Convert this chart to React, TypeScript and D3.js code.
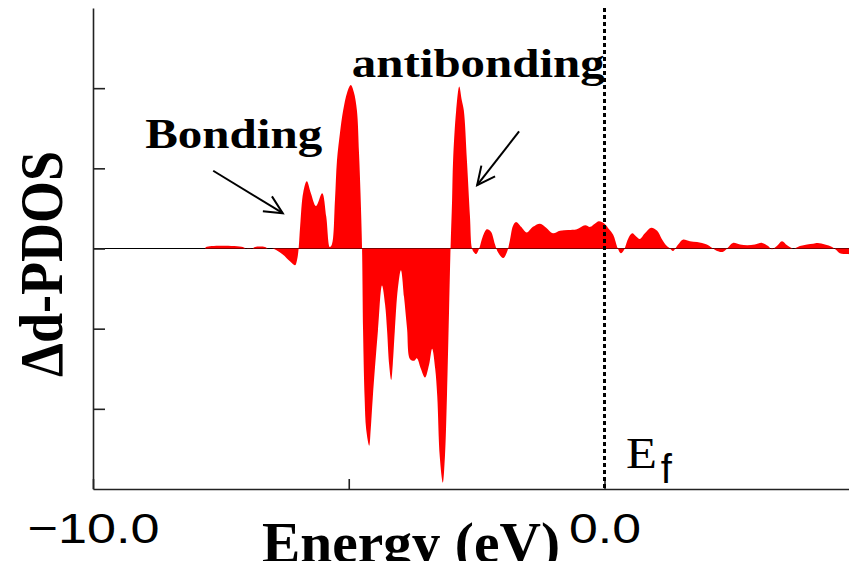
import { useEffect, useRef } from 'react';
import * as d3 from 'd3';

// energy grid (eV) and the d-PDOS difference
const energies = [
  -7.81, -7.79, -7.07, -7.01, -6.89, -6.83, -6.64, -6.58, -6.5, -6.42,
  -6.29, -6.15, -6.05, -6.01, -5.98, -5.95, -5.89, -5.82, -5.74, -5.64,
  -5.52, -5.44, -5.37, -5.33, -5.27, -5.23, -5.17, -5.11, -5.03, -4.96,
  -4.9, -4.84, -4.8, -4.77, -4.74, -4.72, -4.69, -4.66, -4.6, -4.57,
  -4.53, -4.43, -4.35, -4.29, -4.25, -4.21, -4.17, -4.14, -4.1, -4.04,
  -3.98, -3.92, -3.86, -3.8, -3.72, -3.67, -3.59, -3.51, -3.43, -3.37,
  -3.31, -3.27, -3.22, -3.16, -3.12, -3.08, -3.04, -3.01, -2.98, -2.96,
  -2.9, -2.84, -2.79, -2.75, -2.69, -2.63, -2.59, -2.55, -2.51, -2.45,
  -2.38, -2.3, -2.22, -2.14, -2.08, -1.98, -1.91, -1.85, -1.79, -1.73,
  -1.63, -1.52, -1.4, -1.26, -1.14, -1.01, -0.87, -0.71, -0.54, -0.38,
  -0.28, -0.19, -0.11, 0.0, 0.09, 0.17, 0.26, 0.32, 0.38, 0.46,
  0.54, 0.62, 0.69, 0.79, 0.91, 1.03, 1.12, 1.22, 1.28, 1.34,
  1.44, 1.53, 1.67, 1.81, 2.0, 2.1, 2.2, 2.32, 2.41, 2.51,
  2.65, 2.79, 2.94, 3.08, 3.2, 3.27, 3.37, 3.47, 3.57, 3.69,
  3.82, 3.96, 4.08, 4.17, 4.31, 4.45, 4.53, 4.6, 4.76, 4.9,
];

const dpdos = [
  0, 0.02, 0.02, 0, 0, 0.02, 0.02, 0, 0, -0.02,
  -0.075, -0.16, -0.21, -0.14, 0, 0.28, 0.7, 0.84, 0.69, 0.53,
  0.69, 0.4, 0.02, 0.05, 0.6, 1.1, 1.45, 1.72, 1.95, 2.04,
  1.95, 1.72, 1.2, 0.69, 0, -1.03, -1.86, -2.25, -2.46, -2.25,
  -1.86, -1.03, -0.46, -0.7, -1.03, -1.45, -1.64, -1.45, -1.03, -0.5,
  -0.27, -0.6, -1.0, -1.38, -1.4, -1.37, -1.5, -1.61, -1.45, -1.25,
  -1.5, -1.84, -2.6, -2.92, -2.6, -1.84, -0.8, 0, 0.6, 1.1,
  1.72, 2.02, 1.85, 1.72, 1.1, 0.4, 0, -0.05, -0.07, 0,
  0.15, 0.24, 0.21, 0.05, -0.05, -0.12, -0.05, 0.1, 0.28, 0.33,
  0.27, 0.2, 0.27, 0.31, 0.26, 0.19, 0.22, 0.23, 0.24, 0.29,
  0.27, 0.31, 0.34, 0.31, 0.24, 0.17, 0, -0.06, -0.02, 0.12,
  0.19, 0.15, 0.12, 0.19, 0.26, 0.22, 0.12, 0.03, 0, -0.03,
  0.05, 0.11, 0.09, 0.08, 0.05, 0.01, -0.03, -0.04, 0.01, 0.07,
  0.05, 0.04, 0.05, 0.07, 0.03, -0.01, 0.03, 0.09, 0.04, 0,
  0.03, 0.05, 0.06, 0.07, 0.05, 0.02, -0.02, -0.06, -0.07, -0.07,
];

const xTicks = [-10, -5, 0];
const xTickLabels = ['\u221210.0', '', '0.0'];
const yTicks = [-2, -1, 0, 1, 2];

const W = 849;
const H = 561;
const serif = "'Liberation Serif', 'Times New Roman', serif";
const sans = "'Liberation Sans', Arial, sans-serif";

const App = () => {
  const svgRef = useRef<SVGSVGElement>(null);

  useEffect(() => {
    const svg = d3.select(svgRef.current);
    svg.selectAll('*').remove();

    const x = d3.scaleLinear().domain([-10, 5]).range([93, 93 + 15 * 51.15]);
    const y = d3.scaleLinear().domain([-3, 3]).range([489, 8]);

    const data = d3.zip(energies, dpdos).map(([e, v]) => ({ e, v }));

    // zero line
    svg.append('line')
      .attr('x1', x(-10)).attr('x2', x(5))
      .attr('y1', y(0)).attr('y2', y(0))
      .attr('stroke', '#000').attr('stroke-width', 1);

    const area = d3.area<{ e: number; v: number }>()
      .x(d => x(d.e))
      .y0(y(0))
      .y1(d => y(d.v))
      .curve(d3.curveCatmullRom.alpha(0.5));

    svg.append('path').datum(data).attr('d', area).attr('fill', '#ff0000');

    const xAxis = svg.append('g')
      .attr('transform', `translate(0,${y(-3)})`)
      .call(
        d3.axisBottom(x)
          .tickValues(xTicks)
          .tickSizeInner(-10)
          .tickSizeOuter(0)
          .tickPadding(0)
          .tickFormat((d, i) => xTickLabels[i])
      );
    xAxis.selectAll('path, line').attr('stroke', '#222').attr('stroke-width', 1.6);
    xAxis.selectAll('text')
      .attr('y', 54)
      .attr('dy', null)
      .attr('fill', '#000')
      .style('font-family', sans)
      .style('font-size', '43px')
      .attr('textLength', (d, i) => (i === 0 ? 132 : 72))
      .attr('lengthAdjust', 'spacingAndGlyphs');

    const yAxis = svg.append('g')
      .attr('transform', `translate(${x(-10)},0)`)
      .call(
        d3.axisLeft(y)
          .tickValues(yTicks)
          .tickSizeInner(-12)
          .tickSizeOuter(0)
          .tickFormat(() => '')
      );
    yAxis.selectAll('path, line').attr('stroke', '#222').attr('stroke-width', 1.6);

    // Fermi level
    svg.append('line')
      .attr('x1', x(0)).attr('x2', x(0))
      .attr('y1', y(3)).attr('y2', y(-3))
      .attr('stroke', '#000')
      .attr('stroke-width', 3)
      .attr('stroke-dasharray', '4,3');

    const ef = svg.append('g');
    ef.append('text')
      .attr('x', x(0.42)).attr('y', y(-2.74))
      .style('font-family', serif).style('font-size', '45px')
      .attr('textLength', 31).attr('lengthAdjust', 'spacingAndGlyphs')
      .text('E');
    ef.append('text')
      .attr('x', x(1.1)).attr('y', y(-2.93))
      .style('font-family', sans).style('font-size', '40px')
      .text('f');

    // annotations
    svg.append('text')
      .attr('x', x(-8.98)).attr('y', y(1.25))
      .style('font-family', serif).style('font-size', '42px').style('font-weight', 'bold')
      .attr('textLength', 177).attr('lengthAdjust', 'spacingAndGlyphs')
      .text('Bonding');
    svg.append('text')
      .attr('x', x(-4.94)).attr('y', y(2.14))
      .style('font-family', serif).style('font-size', '41px').style('font-weight', 'bold')
      .attr('textLength', 253).attr('lengthAdjust', 'spacingAndGlyphs')
      .text('antibonding');

    const arrows = [
      { from: [-7.65, 0.97], to: [-6.29, 0.44] },
      { from: [-1.67, 1.46], to: [-2.49, 0.79] },
    ];
    arrows.forEach(a => {
      const x1 = x(a.from[0]), y1 = y(a.from[1]);
      const x2 = x(a.to[0]), y2 = y(a.to[1]);
      const ang = Math.atan2(y2 - y1, x2 - x1);
      const len = 20, spread = 0.45;
      const head = [ang + Math.PI - spread, ang + Math.PI + spread].map(t => [x2 + len * Math.cos(t), y2 + len * Math.sin(t)]);
      svg.append('line')
        .attr('x1', x1).attr('y1', y1).attr('x2', x2).attr('y2', y2)
        .attr('stroke', '#000').attr('stroke-width', 2);
      svg.append('path')
        .attr('d', `M${head[0][0]},${head[0][1]}L${x2},${y2}L${head[1][0]},${head[1][1]}`)
        .attr('fill', 'none').attr('stroke', '#000').attr('stroke-width', 2);
    });

    // axis titles
    svg.append('text')
      .attr('transform', 'translate(62,264) scale(1.15,1) rotate(-90)')
      .attr('text-anchor', 'middle')
      .style('font-family', serif).style('font-size', '54px').style('font-weight', 'bold')
      .text('\u0394d-PDOS');
    svg.append('text')
      .attr('x', 262).attr('y', 562)
      .style('font-family', serif).style('font-size', '58px').style('font-weight', 'bold')
      .attr('textLength', 298).attr('lengthAdjust', 'spacingAndGlyphs')
      .text('Energy (eV)');
  }, []);

  return (
    <svg
      ref={svgRef}
      width={W}
      height={H}
      style={{ position: 'absolute', left: 0, top: 0, background: '#fff' }}
    />
  );
};

export default App;
